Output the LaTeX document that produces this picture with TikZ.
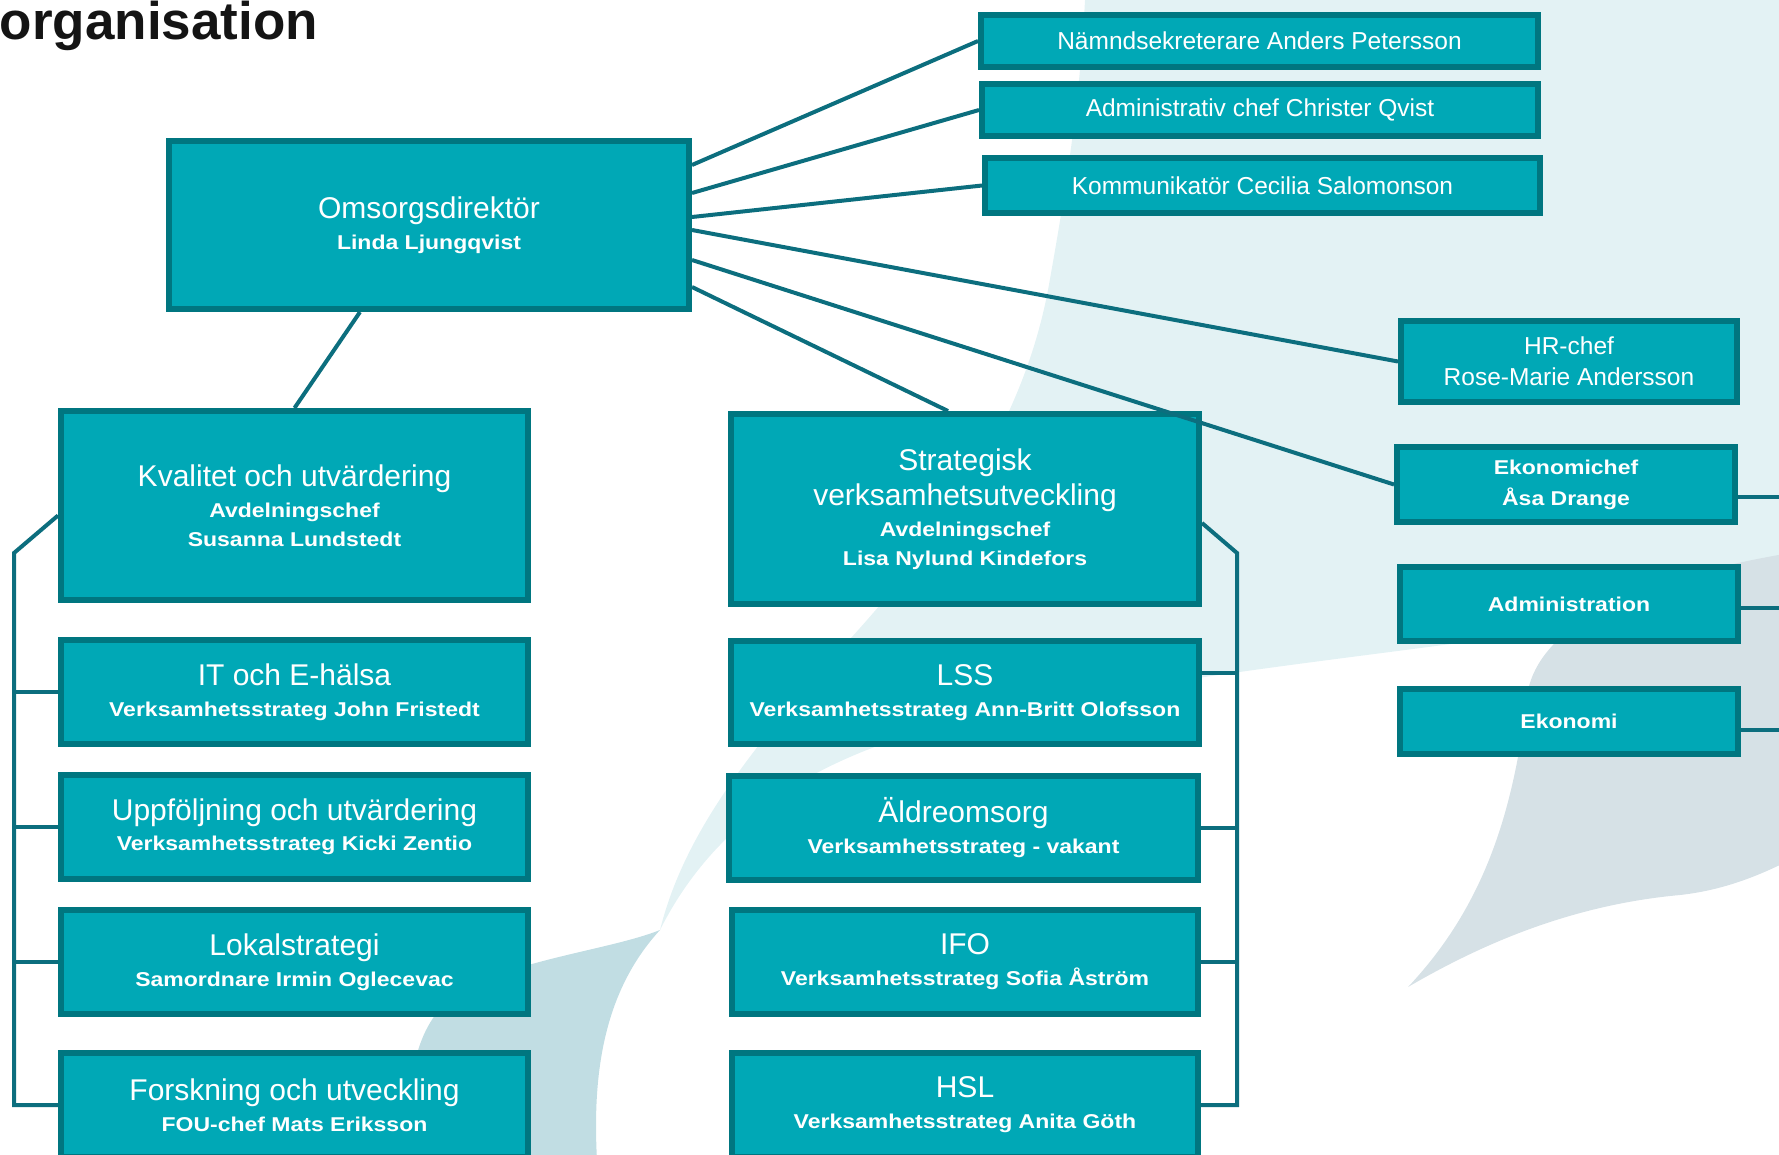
\documentclass[tikz,border=0pt]{standalone}
\usepackage{fontspec}
\setmainfont{Liberation Sans}
\newfontfamily\subfam[FakeStretch=1.15]{Liberation Sans Bold}
\usetikzlibrary{calc}

\definecolor{boxfill}{RGB}{0,168,182}
\definecolor{boxedge}{RGB}{0,118,128}
\definecolor{linkcol}{RGB}{12,110,126}
\definecolor{bgteal}{RGB}{227,242,244}
\definecolor{bggrey}{RGB}{214,225,230}
\definecolor{bgblue}{RGB}{193,221,227}
\definecolor{headcol}{RGB}{20,20,20}

\newcommand{\titlef}{\rmfamily\mdseries\fontsize{30}{31}\selectfont}
\newcommand{\subf}{\subfam\fontsize{20}{31}\selectfont}
\newcommand{\smallf}{\rmfamily\fontsize{24.5}{31}\selectfont}
\newcommand{\headf}{\bfseries\fontsize{53}{60}\selectfont}

\begin{document}
\begin{tikzpicture}[x=1pt, y=-1pt,
  unit/.style={draw=boxedge, fill=boxfill, line width=6pt, text=white, align=center, inner sep=0pt, font=\subf},
  link/.style={draw=linkcol, line width=4pt},
  bracket/.style={draw=linkcol, line width=4pt, line join=miter}]

\useasboundingbox (0,0) rectangle (1779,1154);

% background sweeps
\fill[bgteal] (1085,0) -- (1790,0) -- (1790,553)
  .. controls (1700,575) and (1600,615) .. (1480,640)
  .. controls (1300,665) and (1050,690) .. (880,745)
  .. controls (770,785) and (700,850) .. (660,930)
  .. controls (680,850) and (730,770) .. (840,650)
  .. controls (960,520) and (1025,410) .. (1048,290)
  .. controls (1066,190) and (1080,100) .. (1085,0) -- cycle;
\fill[bggrey] (1790,553) .. controls (1660,575) and (1545,615) .. (1528,690)
  .. controls (1515,800) and (1490,900) .. (1408,987)
  .. controls (1480,945) and (1570,905) .. (1680,895)
  .. controls (1725,890) and (1760,875) .. (1790,860) -- cycle;
\fill[bgblue] (660,930) .. controls (610,950) and (510,960) .. (455,995)
  .. controls (415,1025) and (405,1080) .. (411,1160) -- (597,1160)
  .. controls (592,1070) and (605,990) .. (660,930) -- cycle;

\node[anchor=base east, inner sep=0pt, font=\headf, text=headcol] (heading) at (318,39) {organisation};

% top
\node[unit, minimum width=520pt, minimum height=168pt] (omsorg) at (429,225) {{\titlef Omsorgsdirektör}\\Linda Ljungqvist};

\node[unit, font=\smallf, minimum width=557pt, minimum height=52pt] (namnd) at (1259.5,41) {Nämndsekreterare Anders Petersson};
\node[unit, font=\smallf, minimum width=556pt, minimum height=52pt] (admchef) at (1260,110) {Administrativ chef Christer Qvist};
\node[unit, font=\smallf, minimum width=555pt, minimum height=55pt] (komm) at (1262.5,185.5) {Kommunikatör Cecilia Salomonson};

% staff on the right
\node[unit, font=\smallf, minimum width=336pt, minimum height=81pt] (hr) at (1569,361.5) {HR-chef\\Rose-Marie Andersson};
\node[unit, minimum width=338pt, minimum height=75pt] (ekchef) at (1566,484.5) {Ekonomichef\\Åsa Drange};
\node[unit, minimum width=338pt, minimum height=74pt] (admin) at (1569,604) {Administration};
\node[unit, minimum width=338pt, minimum height=65pt] (ekonomi) at (1569,721.5) {Ekonomi};

% left column
\node[unit, minimum width=467pt, minimum height=189pt] (kval) at (294.5,505.5) {{\titlef Kvalitet och utvärdering}\\Avdelningschef\\[-2pt]Susanna Lundstedt};
\node[unit, minimum width=467pt, minimum height=104pt] (it) at (294.5,692) {{\titlef IT och E-hälsa}\\Verksamhetsstrateg John Fristedt};
\node[unit, minimum width=467pt, minimum height=104pt] (uppf) at ($(it) + (0,135)$) {{\titlef Uppföljning och utvärdering}\\[-1pt]Verksamhetsstrateg Kicki Zentio};
\node[unit, minimum width=467pt, minimum height=104pt] (lokal) at ($(uppf) + (0,135)$) {{\titlef Lokalstrategi}\\Samordnare Irmin Oglecevac};
\node[unit, minimum width=467pt, minimum height=104pt] (forsk) at ($(lokal) + (0,143)$) {{\titlef Forskning och utveckling}\\FOU-chef Mats Eriksson};

% middle column
\node[unit, minimum width=468pt, minimum height=190pt] (strat) at (965,509) {{\titlef Strategisk}\\[4pt]{\titlef verksamhetsutveckling}\\Avdelningschef\\[-2pt]Lisa Nylund Kindefors};
\node[unit, minimum width=468pt, minimum height=103pt] (lss) at (965,692.5) {{\titlef LSS}\\Verksamhetsstrateg Ann-Britt Olofsson};
\node[unit, minimum width=469pt, minimum height=104pt] (aldre) at ($(lss) + (-1.5,135.5)$) {{\titlef Äldreomsorg}\\Verksamhetsstrateg - vakant};
\node[unit, minimum width=466pt, minimum height=104pt] (ifo) at ($(lss) + (0,269.5)$) {{\titlef IFO}\\Verksamhetsstrateg Sofia Åström};
\node[unit, minimum width=466pt, minimum height=104pt] (hsl) at ($(ifo) + (0,143)$) {{\titlef HSL}\\Verksamhetsstrateg Anita Göth};

% links from the director
\draw[link] ([yshift=60pt]omsorg.east) -- (namnd.west);
\draw[link] ([yshift=32pt]omsorg.east) -- (admchef.west);
\draw[link] ([yshift=8pt]omsorg.east) -- (komm.west);
\draw[link] ([yshift=-5pt]omsorg.east) -- (hr.west);
\draw[link] ([yshift=-35pt]omsorg.east) -- (ekchef.west);
\draw[link] ([yshift=-62pt]omsorg.east) -- ([xshift=-17pt]strat.north);
\draw[link] ([xshift=-69pt]omsorg.south) -- (kval.north);

% brackets
\coordinate (lspine) at (14,553);
\coordinate (rspine) at (1237,553);
\coordinate (redge) at (1795,0);

\draw[bracket] ([yshift=-10pt]kval.west) -- (lspine) |- (forsk.west);
\foreach \n in {it,uppf,lokal}
  \draw[bracket] (\n.west) -- (\n.west -| lspine);

\draw[bracket] ([yshift=-14pt]strat.east) -- (rspine) |- (hsl.east);
\draw[bracket] ([yshift=20pt]lss.east) -- ([yshift=20pt]lss.east -| rspine);
\foreach \n in {aldre,ifo}
  \draw[bracket] (\n.east) -- (\n.east -| rspine);

\draw[link] ([yshift=-12pt]ekchef.east) -- ([yshift=-12pt]ekchef.east -| redge);
\draw[link] ([yshift=-4pt]admin.east) -- ([yshift=-4pt]admin.east -| redge);
\draw[link] ([yshift=-8pt]ekonomi.east) -- ([yshift=-8pt]ekonomi.east -| redge);

\end{tikzpicture}
\end{document}
